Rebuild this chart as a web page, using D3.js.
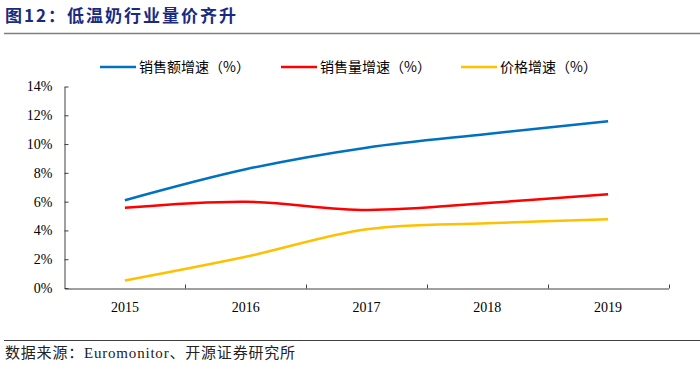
<!DOCTYPE html>
<html><head><meta charset="utf-8">
<script src="https://cdn.jsdelivr.net/npm/d3@7"></script>
<style>body{margin:0;background:#fff}svg{display:block}</style>
</head><body>
<svg id="c" width="700" height="366"></svg>
<script>
const categories = ["2015","2016","2017","2018","2019"];
const salesValue = [6.1, 8.25, 9.75, 10.7, 11.58];
const salesVolume = [5.57, 5.99, 5.42, 5.9, 6.52];
const priceGrowth = [0.52, 2.17, 4.08, 4.5, 4.77];
const yTicks = [0,2,4,6,8,10,12,14];
const seriesNames = ["销售额增速（%）","销售量增速（%）","价格增速（%）"];
const seriesColors = ["#0070C0","#FF0000","#FFC000"];
const title = "图12：低温奶行业量价齐升";
const source = "数据来源：Euromonitor、开源证券研究所";

const svg = d3.select("#c");
const x = d3.scaleBand().domain(categories).range([64.5, 668.5]);
const y = d3.scaleLinear().domain([0,14]).range([288, 86.5]);

// title
svg.append("text").attr("x",5).attr("y",22).text(title)
  .attr("font-family","'Noto Sans CJK SC'").attr("font-weight","bold")
  .attr("font-size",17).attr("fill","#1a2a80").attr("letter-spacing",2);
svg.append("line").attr("x1",4).attr("x2",700).attr("y1",33.5).attr("y2",33.5)
  .attr("stroke","#7f7f7f").attr("stroke-width",1.5);
svg.append("line").attr("x1",4).attr("x2",700).attr("y1",340.5).attr("y2",340.5)
  .attr("stroke","#404040").attr("stroke-width",1);
svg.append("text").attr("x",5).attr("y",358).text(source)
  .attr("font-family","'Liberation Serif','Noto Sans CJK SC'").attr("font-size",15)
  .attr("letter-spacing",0.8).attr("fill","#222");

// axes
const yAxis = d3.axisLeft(y).tickValues(yTicks).tickFormat(d=>d+"%").tickSizeInner(-4).tickSizeOuter(0).tickPadding(12);
const gy = svg.append("g").attr("transform","translate(64.5,0)").call(yAxis);
gy.selectAll("text").attr("font-family","'Liberation Serif'").attr("font-size",14).attr("fill","#000");
gy.selectAll("line,path").attr("stroke","#404040");

const xAxis = d3.axisBottom(x).tickSize(0).tickPadding(14);
const gx = svg.append("g").attr("transform","translate(0,288.5)").call(xAxis);
gx.selectAll("text").attr("font-family","'Liberation Serif'").attr("font-size",14).attr("fill","#000");
gx.select("path").attr("stroke","#404040");
// inward ticks at band boundaries
const bounds = categories.map(c=>x(c)).concat([x(categories[categories.length-1])+x.bandwidth()]).slice(1);
gx.selectAll(".bt").data(bounds).enter().append("line")
  .attr("x1",d=>Math.round(d)+0.5).attr("x2",d=>Math.round(d)+0.5).attr("y1",0).attr("y2",-4)
  .attr("stroke","#404040");

// lines
const line = d3.line().x((d,i)=>x(categories[i])+x.bandwidth()/2).y(d=>y(d)).curve(d3.curveCardinal.tension(0));
[salesValue, salesVolume, priceGrowth].forEach((s,i)=>{
  svg.append("path").datum(s).attr("d",line).attr("fill","none")
    .attr("stroke",seriesColors[i]).attr("stroke-width",2.5);
});

// legend
const legX = [100, 281, 461];
seriesNames.forEach((n,i)=>{
  svg.append("line").attr("x1",legX[i]).attr("x2",legX[i]+36).attr("y1",67).attr("y2",67)
    .attr("stroke",seriesColors[i]).attr("stroke-width",2.5);
  svg.append("text").attr("x",legX[i]+39).attr("y",72).text(n)
    .attr("font-family","'Noto Sans CJK SC'").attr("font-size",14).attr("fill","#000");
});
</script>
</body></html>
